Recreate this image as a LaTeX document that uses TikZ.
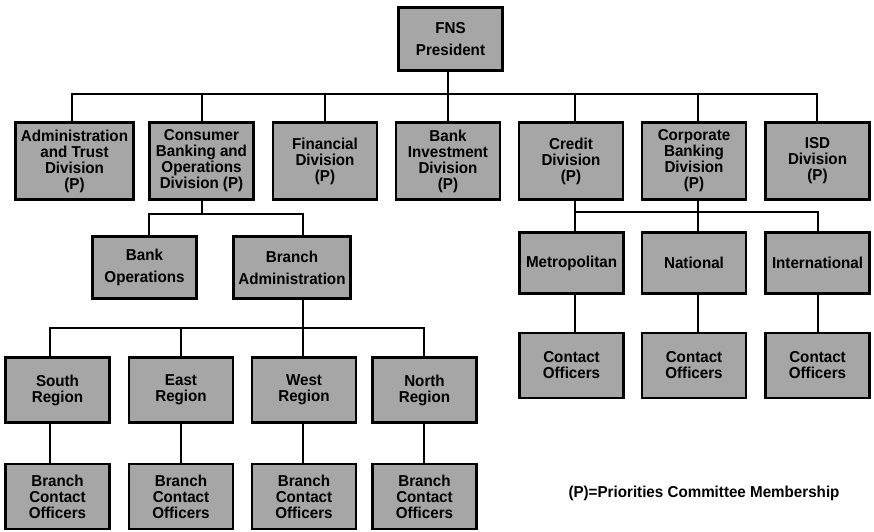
\documentclass[tikz,border=0pt]{standalone}
\usepackage{fontspec}
\setmainfont[FakeStretch=0.96]{Liberation Sans}
\definecolor{boxgray}{RGB}{166,166,166}
\begin{document}
\begin{tikzpicture}[x=1pt,y=-1pt,
  box/.style={draw=black, line width=2.5pt, fill=boxgray, align=center, inner sep=0pt,
    font=\bfseries\fontsize{15.8}{16}\selectfont, minimum width=104pt},
  wide/.style={font=\bfseries\fontsize{15.8}{22}\selectfont},
  link/.style={line width=2pt},
  note/.style={font=\bfseries\fontsize{15.8}{16}\selectfont, inner sep=0pt}]
\useasboundingbox (0,0) rectangle (874,531);
\coordinate (bus1) at (0,94);
\coordinate (bus2) at (0,214);
\coordinate (bus3) at (0,328);
\coordinate (bus4) at (0,212);
% nodes
\node[box, minimum height=63pt, wide] (pres) at (450.5,39) {FNS\\President};
\node[box, minimum width=118pt, minimum height=77pt] (adm) at (74.5,161) {Administration\\and Trust\\Division\\(P)};
\node[box, minimum height=77pt] (cons) at (201.5,161) {Consumer\\Banking and\\Operations\\Division (P)};
\node[box, minimum height=77pt] (fin) at (325,161) {Financial\\Division\\(P)};
\node[box, minimum height=77pt] (binv) at (448,161) {Bank\\Investment\\Division\\(P)};
\node[box, minimum height=77pt] (cred) at (571,161) {Credit\\Division\\(P)};
\node[box, minimum height=77pt] (corp) at (694,161) {Corporate\\Banking\\Division\\(P)};
\node[box, minimum height=77pt] (isd) at (817.5,161) {ISD\\Division\\(P)};
\node[box, minimum height=62pt, wide] (bops) at (144.5,267.5) {Bank\\Operations};
\node[box, minimum width=117pt, minimum height=62pt, wide] (badm) at (292,267.5) {Branch\\Administration};
\node[box, minimum height=65pt] (south) at (57.5,390) {South\\Region};
\node[box, minimum height=65pt] (east) at (181,390) {East\\Region};
\node[box, minimum height=65pt] (west) at (304,390) {West\\Region};
\node[box, minimum height=65pt] (north) at (424.5,390) {North\\Region};
\node[box, minimum height=65pt] (bso) at (57.5,496.5) {Branch\\Contact\\Officers};
\node[box, minimum height=65pt] (bea) at (181,496.5) {Branch\\Contact\\Officers};
\node[box, minimum height=65pt] (bwe) at (304,496.5) {Branch\\Contact\\Officers};
\node[box, minimum height=65pt] (bno) at (424.5,496.5) {Branch\\Contact\\Officers};
\node[box, minimum height=61pt] (metro) at (571.5,263) {Metropolitan};
\node[box, minimum height=61pt] (nat) at (694,263) {National};
\node[box, minimum height=61pt] (intl) at (817.5,263) {International};
\node[box, minimum height=65pt] (cmet) at (571.5,365.5) {Contact\\Officers};
\node[box, minimum height=65pt] (cnat) at (694,365.5) {Contact\\Officers};
\node[box, minimum height=65pt] (cint) at (817.5,365.5) {Contact\\Officers};
\node[note] (cap) at (704,493) {(P)=Priorities Committee Membership};
% connectors
\draw[link] (pres.south -| binv.north) -- (binv.north);
\draw[link] ([xshift=-2.5pt]adm.north) -- ([xshift=-2.5pt]adm.north |- bus1) -- ([xshift=-1pt]isd.north |- bus1) -- ([xshift=-1pt]isd.north);
\foreach \n in {cons,fin}{\draw[link] (\n.north) -- (\n.north |- bus1);}
\foreach \n in {cred,corp}{\draw[link] ([xshift=4pt]\n.north) -- ([xshift=4pt]\n.north |- bus1);}
% consumer subtree
\draw[link] (cons.south) -- (cons.south |- bus2);
\draw[link] ([xshift=4pt]bops.north) -- ([xshift=4pt]bops.north |- bus2) -- ([xshift=-1.5pt]west.north |- bus2) -- ([xshift=-1.5pt]west.north |- badm.north);
\draw[link] ([xshift=-1.5pt]west.north |- badm.south) -- ([xshift=-1.5pt]west.north);
\draw[link] ([xshift=-7.5pt]south.north) -- ([xshift=-7.5pt]south.north |- bus3) -- ([xshift=-1pt]north.north |- bus3) -- ([xshift=-1pt]north.north);
\draw[link] (east.north) -- (east.north |- bus3);
\draw[link] ([xshift=-7.5pt]south.south) -- ([xshift=-7.5pt]bso.north);
\draw[link] (east.south) -- (bea.north);
\draw[link] ([xshift=-1.5pt]west.south) -- ([xshift=-1.5pt]bwe.north);
\draw[link] ([xshift=-1pt]north.south) -- ([xshift=-1pt]bno.north);
% credit subtree
\draw[link] ([xshift=4pt]cred.south) -- ([xshift=3.5pt]metro.north);
\draw[link] ([xshift=4pt]corp.south) -- ([xshift=4pt]nat.north);
\draw[link] ([xshift=3.5pt]metro.north |- bus4) -- (intl.north |- bus4) -- (intl.north);
\draw[link] ([xshift=3.5pt]metro.south) -- ([xshift=3.5pt]cmet.north);
\draw[link] ([xshift=4pt]nat.south) -- ([xshift=4pt]cnat.north);
\draw[link] (intl.south) -- (cint.north);
\end{tikzpicture}
\end{document}
